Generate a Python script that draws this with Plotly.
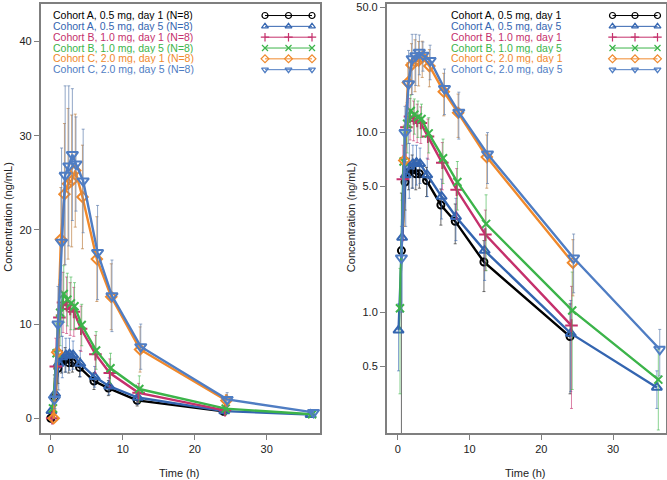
import plotly.graph_objects as go

# ---------------- data ----------------
TIME = [0, 0.5, 1, 1.5, 2, 2.5, 3, 4, 6, 8, 12, 24, 36]

LABELS = ["Cohort A, 0.5 mg, day 1", "Cohort A, 0.5 mg, day 5",
          "Cohort B, 1.0 mg, day 1", "Cohort B, 1.0 mg, day 5",
          "Cohort C, 2.0 mg, day 1", "Cohort C, 2.0 mg, day 5"]
N_SUFFIX = " (N=8)"

A1 = [0, 2.2, 5.3, 6.0, 6.2, 5.9, 5.9, 5.4, 3.95, 3.2, 1.9, 0.73, None]
A1_SD = [0, 2.4, 1.6, 1.2, 1.3, 1.1, 1.0, 1.0, 0.9, 0.8, 0.6, 0.38, None]

A5 = [0.79, 2.6, 5.8, 6.5, 6.7, 6.8, 6.7, 5.8, 4.4, 3.4, 2.2, 0.76, 0.38]
A5_SD = [0.32, 1.6, 2.8, 2.2, 1.8, 1.7, 1.5, 1.4, 1.1, 0.9, 0.7, 0.4, 0.09]

B1 = [0, 5.5, 10.7, 12.3, 12.0, 11.6, 11.3, 9.5, 6.8, 4.8, 2.7, 0.84, None]
B1_SD = [0, 3.0, 3.5, 3.2, 3.0, 2.8, 2.6, 2.4, 2.0, 1.5, 1.0, 0.55, None]

B5 = [1.05, 6.9, 11.2, 13.2, 12.6, 12.2, 11.9, 9.9, 7.2, 5.3, 3.1, 1.02, 0.42]
B5_SD = [0.7, 3.2, 3.5, 3.0, 2.8, 2.8, 2.5, 2.2, 2.0, 1.6, 1.4, 0.65, 0.2]

C1 = [0, 7.0, 19.0, 23.8, 24.9, 25.2, 26.3, 23.5, 16.9, 12.9, 7.3, 1.88, None]
C1_SD = [0, 4.0, 5.5, 7.5, 8.0, 7.0, 6.0, 5.5, 4.5, 3.5, 2.4, 0.65, None]

C5 = [2.0, 10.0, 18.7, 25.8, 26.8, 28.0, 27.0, 25.2, 17.6, 13.0, 7.6, 2.0, 0.62]
C5_SD = [1.0, 4.0, 10.0, 9.5, 8.5, 7.0, 5.0, 5.5, 5.0, 3.8, 2.4, 0.72, 0.18]

VALUES = [A1, A5, B1, B5, C1, C5]
SDS = [A1_SD, A5_SD, B1_SD, B5_SD, C1_SD, C5_SD]

LIN_TICKS = [0, 10, 20, 30, 40]
LOG_TICKS = [0.5, 1, 5, 10, 50]
LOG_TICKTEXT = ["0.5", "1.0", "5.0", "10.0", "50.0"]
X_TICKS = [0, 10, 20, 30]

# ---------------- styles ----------------
COLORS = ["#000000", "#3465b0", "#c5306c", "#3cb44a", "#f0892c", "#4f7dc3"]
ERR_COLORS = ["rgba(60,60,60,0.75)", "rgba(52,101,176,0.6)", "rgba(197,48,108,0.6)",
              "rgba(60,180,74,0.6)", "rgba(190,130,70,0.7)", "rgba(100,130,175,0.7)"]
SYMBOLS = ["circle-open", "triangle-up-open", "cross-thin-open", "x-thin-open",
           "diamond-open", "triangle-down-open"]
SIZES = [7, 9, 9, 8, 8, 10]
JITTER = [0.0, 0.1, 0.2, 0.3, 0.4, 0.5]
FONT = "Liberation Sans, Arial, sans-serif"
W, H = 667, 480


def positive_only(vals):
    # log axis cannot show non-positive concentrations: leave them out
    return [v if (v is not None and v > 0) else None for v in vals]


fig = go.Figure()

for i in range(6):
    xs = [t + JITTER[i] for t in TIME]
    for xa, ya, ys in (("x", "y", VALUES[i]), ("x2", "y2", positive_only(VALUES[i]))):
        fig.add_trace(go.Scatter(
            x=xs, y=ys, xaxis=xa, yaxis=ya, mode="lines+markers",
            line=dict(color=COLORS[i], width=2.4),
            marker=dict(symbol=SYMBOLS[i], size=SIZES[i], color=COLORS[i],
                        line=dict(color=COLORS[i], width=2)),
            error_y=dict(type="data", array=SDS[i], visible=True,
                         color=ERR_COLORS[i], thickness=1, width=1.5),
            showlegend=False, hoverinfo="skip"))

# ---------------- custom legend keys (text left, key right) ----------------
ROW_Y = [12.6, 23.5, 34.4, 45.3, 56.2, 67.1]
KEY_X = {"left": [265, 288.5, 312], "right": [612.5, 635, 657.5]}
TEXT_X = {"left": 51.5, "right": 450}
for i in range(6):
    for side in ("left", "right"):
        fig.add_trace(go.Scatter(
            x=KEY_X[side], y=[ROW_Y[i]] * 3, xaxis="x3", yaxis="y3",
            mode="lines+markers", line=dict(color=COLORS[i], width=1),
            marker=dict(symbol=SYMBOLS[i], size=6, color=COLORS[i],
                        line=dict(color=COLORS[i], width=1.2)),
            showlegend=False, hoverinfo="skip"))
        text = LABELS[i] + (N_SUFFIX if side == "left" else "")
        fig.add_annotation(x=TEXT_X[side] / W, y=1 - ROW_Y[i] / H, xref="paper", yref="paper",
                           text=text, showarrow=False, xanchor="left", yanchor="middle",
                           borderpad=0, height=10.5, valign="middle",
                           font=dict(family=FONT, size=10.5, color=COLORS[i]))

axis_common = dict(showline=True, mirror=True, linecolor="#7f7f7f", linewidth=1.5,
                   ticks="outside", ticklen=5, tickwidth=1.2, tickcolor="#7f7f7f",
                   showgrid=False, zeroline=False, ticklabeloverflow="allow",
                   tickfont=dict(family=FONT, size=11, color="#222222"))

YDOM = [47 / H, 0.998]
fig.update_layout(
    width=W, height=H, margin=dict(l=0, r=0, t=0, b=0),
    paper_bgcolor="white", plot_bgcolor="rgba(0,0,0,0)",
    xaxis=dict(domain=[40.7 / W, 320 / W], range=[-1.4, 37.4], tickvals=X_TICKS,
               anchor="y", **axis_common),
    yaxis=dict(domain=YDOM, range=[-1.6, 44.0], tickvals=LIN_TICKS, anchor="x",
               **axis_common),
    xaxis2=dict(domain=[386.7 / W, 665.5 / W], range=[-1.55, 37.3], tickvals=X_TICKS,
                anchor="y2", **axis_common),
    yaxis2=dict(domain=YDOM, type="log", range=[-0.676, 1.717], tickvals=LOG_TICKS,
                ticktext=LOG_TICKTEXT, anchor="x2", **axis_common),
    xaxis3=dict(domain=[0, 1], range=[0, W], visible=False, anchor="y3"),
    yaxis3=dict(domain=[0, 1], range=[H, 0], visible=False, anchor="x3"),
)

# axis titles
for xc in (8, 350.5):
    fig.add_annotation(x=xc / W, y=1 - 216 / H, xref="paper", yref="paper",
                       text="Concentration (ng/mL)", textangle=-90, showarrow=False,
                       xanchor="center", yanchor="middle",
                       font=dict(family=FONT, size=11, color="#222222"))
for xc in (179, 525):
    fig.add_annotation(x=xc / W, y=1 - 473 / H, xref="paper", yref="paper",
                       text="Time (h)", showarrow=False, xanchor="center", yanchor="middle",
                       font=dict(family=FONT, size=11, color="#222222"))

fig.write_html("out.html", config={"displayModeBar": False},
               post_script="document.body.style.margin='0';document.body.style.overflow='hidden';")
